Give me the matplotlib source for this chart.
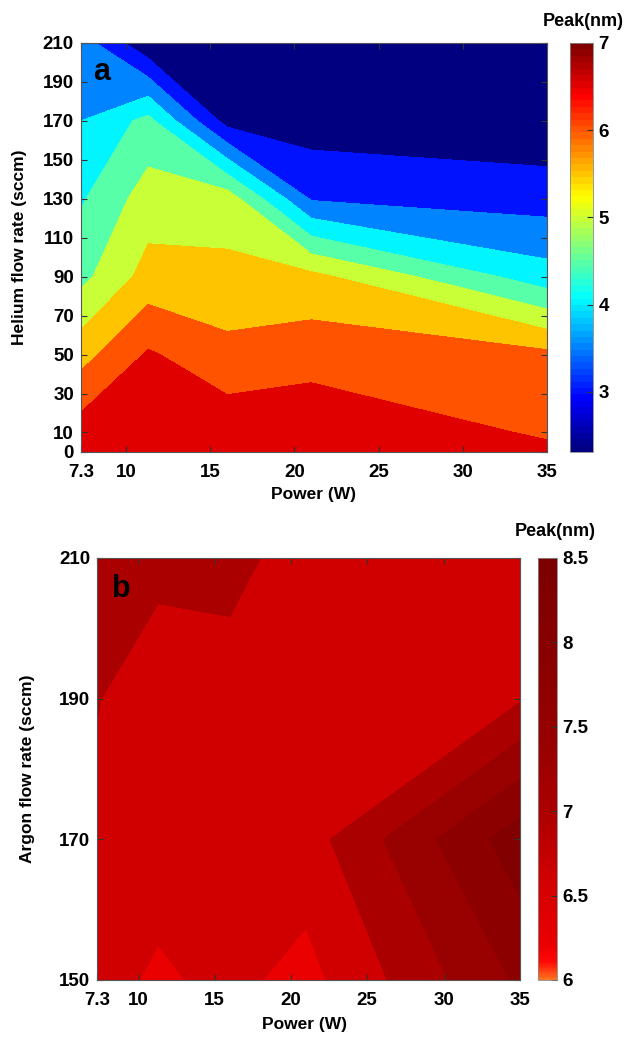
import numpy as np
import matplotlib.pyplot as plt
from matplotlib import cm, colors

plt.rcParams['font.family'] = ['Liberation Sans', 'DejaVu Sans']
plt.rcParams['font.weight'] = 'bold'

# (a) helium: peak size over power x flow grid
power_a = [7.3, 11.3, 16, 21, 35]
helium_flow = [0, 10, 50, 90, 130, 170, 210]
peak_a = [
    [7.00, 7.00, 6.90, 6.90, 6.60],
    [6.74, 6.95, 6.82, 6.87, 6.44],
    [5.81, 6.56, 6.16, 6.29, 6.12],
    [4.85, 5.69, 5.62, 5.64, 4.21],
    [4.44, 5.24, 5.28, 3.45, 3.28],
    [4.00, 4.65, 2.80, 2.73, 2.60],
    [3.75, 2.60, 2.50, 2.40, 2.31],
]
levels_a = [3.0, 3.5, 4.0, 4.5, 5.0, 5.5, 6.0, 6.5]

# (b) argon
power_b = [7.3, 11.3, 16, 21, 35]
argon_flow = [150, 170, 190, 210]
peak_b = [
    [6.54, 6.34, 6.50, 6.27, 7.67],
    [6.69, 6.58, 6.60, 6.62, 8.23],
    [6.82, 6.55, 6.66, 6.60, 6.76],
    [7.10, 6.92, 6.90, 6.65, 6.60],
]
levels_b = [6.0, 6.4, 6.8, 7.2, 7.6, 8.0, 8.5]

power_ticks = [7.3, 10, 15, 20, 25, 30, 35]
power_ticklabels = ['7.3', '10', '15', '20', '25', '30', '35']
helium_ticks = [0, 10, 30, 50, 70, 90, 110, 130, 150, 170, 190, 210]
argon_ticks = [150, 170, 190, 210]
cbar_ticks_a = [3, 4, 5, 6, 7]
cbar_ticks_b = [6, 6.5, 7, 7.5, 8, 8.5]
cbar_ticklabels_b = ['6', '6.5', '7', '7.5', '8', '8.5']

TICK_SIZE = 13.5

# MATLAB-style jet, 64 steps
jet_segments = {
    'red':   [(0, 0, 0), (3 / 8, 0, 0), (5 / 8, 1, 1), (7 / 8, 1, 1), (1, 0.5, 0.5)],
    'green': [(0, 0, 0), (1 / 8, 0, 0), (3 / 8, 1, 1), (5 / 8, 1, 1), (7 / 8, 0, 0), (1, 0, 0)],
    'blue':  [(0, 0.5, 0.5), (1 / 8, 1, 1), (3 / 8, 1, 1), (5 / 8, 0, 0), (1, 0, 0)],
}
jet = colors.LinearSegmentedColormap('mjet', jet_segments, N=64)


def style_axes(ax):
    ax.tick_params(direction='in', top=True, right=True, length=4, width=0.8,
                   color='#333333', labelsize=TICK_SIZE)
    ax.tick_params(axis='x', pad=9)
    ax.tick_params(axis='y', pad=5)
    for s in ax.spines.values():
        s.set_linewidth(0.8)
        s.set_color('#555555')


def style_cbar(cb):
    cb.ax.tick_params(direction='in', length=4, width=0.8, color='#333333',
                      labelsize=TICK_SIZE, pad=4)
    cb.outline.set_linewidth(0.6)
    cb.outline.set_edgecolor('#888888')


fig = plt.figure(figsize=(6.32, 10.38), dpi=100)

# ---- panel a ----
ax1 = fig.add_axes([0.128, 0.5646, 0.737, 0.394])
za = np.array(peak_a)
norm_a = colors.Normalize(vmin=za.min(), vmax=za.max())
bounds_a = [za.min()] + levels_a + [za.max() + 1e-6]
# each band takes the colour of its lower bound
fill_a = [jet(norm_a(v)) for v in bounds_a[:-1]]
X, Y = np.meshgrid(power_a, helium_flow)
ax1.contourf(X, Y, za, levels=bounds_a, colors=fill_a)
ax1.set_xlim(7.3, 35)
ax1.set_ylim(0, 210)
ax1.set_xticks(power_ticks)
ax1.set_xticklabels(power_ticklabels)
ax1.set_yticks(helium_ticks)
style_axes(ax1)
ax1.set_xlabel('Power (W)', fontsize=12.5, fontweight='bold')
ax1.set_ylabel('Helium flow rate (sccm)', fontsize=12.5, fontweight='bold')
ax1.xaxis.set_label_coords(0.5, -0.085)
ax1.yaxis.set_label_coords(-0.116, 0.5)
ax1.text(0.026, 0.91, 'a', transform=ax1.transAxes, fontsize=22,
         fontweight='bold', va='baseline')

cax1 = fig.add_axes([0.902, 0.5646, 0.0364, 0.394])
cb1 = fig.colorbar(cm.ScalarMappable(norm=norm_a, cmap=jet), cax=cax1,
                   ticks=cbar_ticks_a)
style_cbar(cb1)
fig.text(583 / 632, 1 - 22 / 1038, 'Peak(nm)', ha='center', va='center',
         fontsize=13, fontweight='bold')

# ---- panel b ----
red_nodes = [
    (0.00, (1.00, 0.45, 0.12)),
    (0.04, (1.00, 0.04, 0.02)),
    (0.08, (0.92, 0.00, 0.00)),
    (0.24, (0.82, 0.00, 0.00)),
    (0.40, (0.67, 0.00, 0.00)),
    (0.56, (0.60, 0.00, 0.00)),
    (0.72, (0.55, 0.00, 0.00)),
    (0.90, (0.51, 0.00, 0.00)),
    (1.00, (0.48, 0.00, 0.00)),
]
reds = colors.LinearSegmentedColormap.from_list('peak_reds', red_nodes)
norm_b = colors.Normalize(vmin=6.0, vmax=8.5)

ax2 = fig.add_axes([0.1535, 0.0559, 0.669, 0.4066])
Xb, Yb = np.meshgrid(power_b, argon_flow)
ax2.contourf(Xb, Yb, np.array(peak_b), levels=levels_b, cmap=reds, norm=norm_b)
ax2.set_xlim(7.3, 35)
ax2.set_ylim(150, 210)
ax2.set_xticks(power_ticks)
ax2.set_xticklabels(power_ticklabels)
ax2.set_yticks(argon_ticks)
style_axes(ax2)
ax2.set_xlabel('Power (W)', fontsize=12.5, fontweight='bold')
ax2.set_ylabel('Argon flow rate (sccm)', fontsize=12.5, fontweight='bold')
ax2.xaxis.set_label_coords(0.49, -0.087)
ax2.yaxis.set_label_coords(-0.147, 0.5)
ax2.text(0.035, 0.908, 'b', transform=ax2.transAxes, fontsize=22,
         fontweight='bold', va='baseline')

cax2 = fig.add_axes([0.851, 0.0559, 0.030, 0.4066])
cb2 = fig.colorbar(cm.ScalarMappable(norm=norm_b, cmap=reds), cax=cax2,
                   ticks=cbar_ticks_b)
cb2.set_ticklabels(cbar_ticklabels_b)
style_cbar(cb2)
fig.text(555 / 632, 1 - 532 / 1038, 'Peak(nm)', ha='center', va='center',
         fontsize=13, fontweight='bold')

fig.savefig('out.png', dpi=100)
